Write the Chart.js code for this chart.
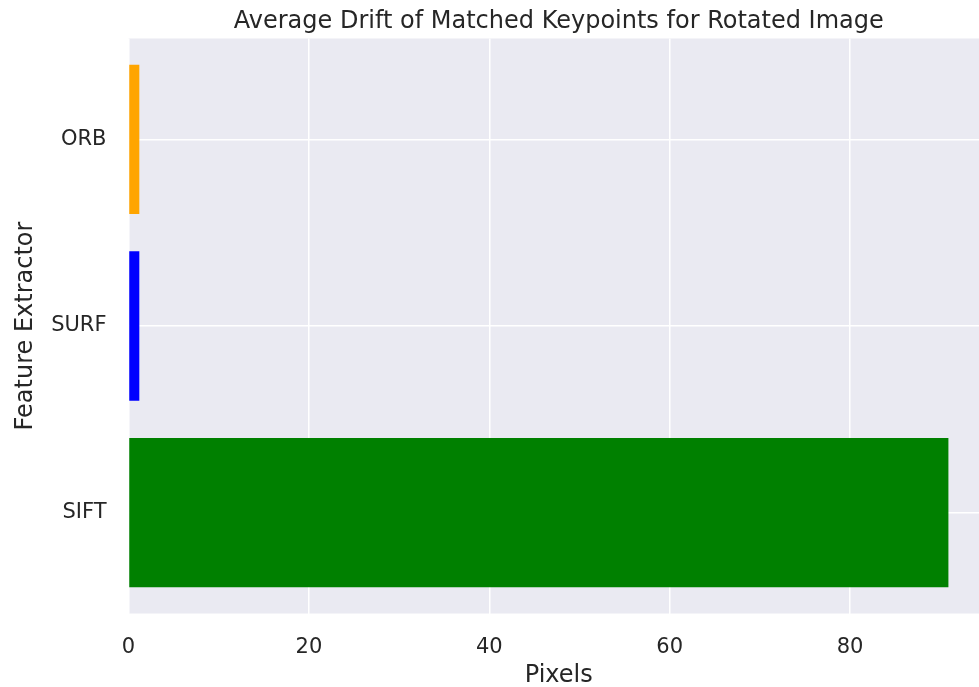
<!DOCTYPE html>
<html>
<head>
<meta charset="utf-8">
<script src="https://cdn.jsdelivr.net/npm/chart.js@4/dist/chart.umd.min.js"></script>
<style>
  html, body { margin: 0; padding: 0; background: #ffffff; overflow: hidden; }
  #wrap { position: relative; width: 1000px; height: 687px; }
</style>
</head>
<body>
<div id="wrap"><canvas id="c" width="1000" height="687"></canvas></div>
<script>
const categories = ["SIFT", "SURF", "ORB"];
const values = [90.9, 1.2, 1.2];
const barColors = ["#008000", "#0000FF", "#FFA500"];
const xTicks = [0, 20, 40, 60, 80];
const titleText = "Average Drift of Matched Keypoints for Rotated Image";
const xLabel = "Pixels";
const yLabel = "Feature Extractor";

const TEXT = "#262626";
const FONT = "'DejaVu Sans', sans-serif";

const bgPlugin = {
  id: "plotBg",
  beforeDraw(chart) {
    const {ctx, chartArea: a} = chart;
    ctx.save();
    ctx.fillStyle = "#EAEAF2";
    ctx.fillRect(a.left, a.top, a.right - a.left, a.bottom - a.top);
    ctx.restore();
  }
};
const titlePlugin = {
  id: "centerTitle",
  afterDraw(chart) {
    const {ctx, chartArea: a} = chart;
    ctx.save();
    ctx.fillStyle = TEXT;
    ctx.font = "24px " + FONT;
    ctx.textAlign = "center";
    ctx.textBaseline = "alphabetic";
    ctx.fillText(titleText, (a.left + a.right) / 2, 28);
    ctx.restore();
  }
};

new Chart(document.getElementById("c"), {
  type: "bar",
  data: {
    datasets: [{
      data: values.map((v, i) => ({x: v, y: i})),
      backgroundColor: barColors,
      borderWidth: 0,
      categoryPercentage: 1.0,
      barPercentage: 0.8
    }]
  },
  options: {
    indexAxis: "y",
    responsive: false,
    animation: false,
    devicePixelRatio: 1,
    layout: { padding: { left: 0, right: 11, top: 38.5, bottom: 0 } },
    plugins: { legend: { display: false }, tooltip: { enabled: false }, title: { display: false } },
    scales: {
      x: {
        type: "linear",
        min: 0,
        max: 95.4,
        offset: false,
        afterBuildTicks(scale) { scale.ticks = xTicks.map(v => ({value: v})); },
        afterFit(scale) { scale.height = 73.5; },
        grid: { color: "#ffffff", lineWidth: 1.5, drawTicks: false, offset: false },
        border: { display: false },
        ticks: { color: TEXT, font: { family: FONT, size: 21 }, padding: 21 },
        title: { display: true, text: xLabel, color: TEXT, font: { family: FONT, size: 24, lineHeight: 0.93 }, padding: { top: 0, bottom: 0 } }
      },
      y: {
        type: "linear",
        min: -0.54,
        max: 2.54,
        offset: false,
        afterBuildTicks(scale) { scale.ticks = categories.map((c, i) => ({value: i})); },
        afterFit(scale) { scale.width = 128.5; },
        grid: { color: "#ffffff", lineWidth: 1.5, drawTicks: false, offset: false },
        border: { display: false },
        ticks: { color: TEXT, font: { family: FONT, size: 21 }, padding: 22, callback: (v) => categories[v] },
        title: { display: true, text: yLabel, color: TEXT, font: { family: FONT, size: 24, lineHeight: 1.2 }, padding: { top: 11, bottom: 0 } }
      }
    }
  },
  plugins: [bgPlugin, titlePlugin]
});
</script>
</body>
</html>
